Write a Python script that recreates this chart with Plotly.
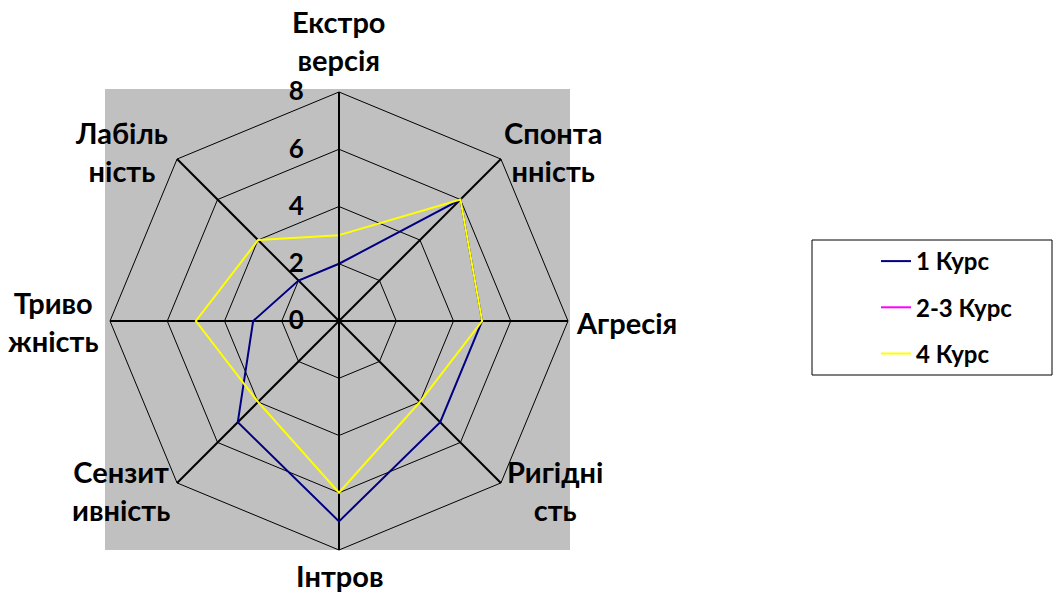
import plotly.graph_objects as go

# Scale categories, clockwise from the top
categories = [
    "Екстроверсія",
    "Спонтанність",
    "Агресія",
    "Ригідність",
    "Інтроверсія",
    "Сензитивність",
    "Тривожність",
    "Лабільність",
]
# Wrapped form of each category name shown around the chart
category_labels = [
    "Екстро<br>версія",
    "Спонта<br>нність",
    "Агресія",
    "Ригідні<br>сть",
    "Інтров",
    "Сензит<br>ивність",
    "Триво<br>жність",
    "Лабіль<br>ність",
]

course_1 = [2, 6, 5, 5, 7, 5, 3, 2]
course_2_3 = [None] * 8
course_4 = [3, 6, 5, 4, 6, 4, 5, 4]

radial_ticks = [0, 2, 4, 6, 8]

series = [
    ("1 Курс", course_1, "#000080"),
    ("2-3 Курс", course_2_3, "#FF00FF"),
    ("4 Курс", course_4, "#FFFF00"),
]

W, H = 1054, 594
FONT = "Lato"


def px_x(v):
    return v / W


def px_y(v):
    return 1 - v / H


fig = go.Figure()
for name, vals, color in series:
    fig.add_trace(go.Scatterpolar(
        r=vals + vals[:1],
        theta=categories + categories[:1],
        mode="lines",
        name=name,
        legendgroup=name,
        line=dict(color=color, width=2),
        connectgaps=False,
    ))

# polar centre and outer radius, in pixels
cx, cy, rad = 339, 321, 229

# category labels sit outside the outer ring: pixel offset of each label
# block from the polar centre and its horizontal anchor
label_layout = [
    (0, -281, "center"),
    (214, -170, "center"),
    (235, 1, "left"),
    (216, 169, "center"),
    (0, 254, "center"),
    (-218, 169, "center"),
    (-238, 0, "right"),
    (-218, -169, "center"),
]
annotations = []
for text, (dx, dy, anchor) in zip(category_labels, label_layout):
    annotations.append(dict(
        x=px_x(cx + dx), y=px_y(cy + dy), xref="paper", yref="paper",
        text=text, showarrow=False, xanchor=anchor, yanchor="middle",
        align="center",
        font=dict(family=FONT, size=29, color="black", weight="bold"),
    ))

fig.update_layout(
    width=W,
    height=H,
    margin=dict(l=0, r=0, t=0, b=0),
    paper_bgcolor="white",
    plot_bgcolor="white",
    font=dict(family=FONT, color="black"),
    polar=dict(
        domain=dict(x=[px_x(cx - rad), px_x(cx + rad)],
                    y=[px_y(cy + rad), px_y(cy - rad)]),
        bgcolor="rgba(0,0,0,0)",
        gridshape="linear",
        angularaxis=dict(
            rotation=90,
            direction="clockwise",
            showline=True,
            linecolor="black",
            linewidth=1,
            gridcolor="black",
            gridwidth=2,
            ticks="",
            showticklabels=False,
        ),
        radialaxis=dict(
            range=[0, 8],
            tickvals=radial_ticks,
            angle=90,
            tickangle=90,
            showline=True,
            linecolor="black",
            linewidth=2,
            gridcolor="black",
            gridwidth=1,
            ticks="outside",
            ticklen=25,
            tickcolor="rgba(0,0,0,0)",
            side="counterclockwise",
            tickfont=dict(family=FONT, size=26, color="black", weight="bold"),
        ),
    ),
    shapes=[
        # grey plot area behind the radar
        dict(type="rect", xref="paper", yref="paper",
             x0=px_x(105), x1=px_x(570), y0=px_y(550), y1=px_y(89),
             fillcolor="#C0C0C0", line=dict(width=0), layer="below"),
        # legend frame
        dict(type="rect", xref="paper", yref="paper",
             x0=px_x(812), x1=px_x(1052), y0=px_y(375), y1=px_y(240),
             fillcolor="white", line=dict(color="black", width=1), layer="below"),
    ],
    annotations=annotations,
    legend=dict(
        x=px_x(876), y=px_y(239), xanchor="left", yanchor="top",
        bgcolor="rgba(0,0,0,0)",
        borderwidth=0,
        traceorder="grouped",
        tracegroupgap=12,
        font=dict(family=FONT, size=24, color="black", weight="bold"),
    ),
    showlegend=True,
)

fig.write_html("out.html")
